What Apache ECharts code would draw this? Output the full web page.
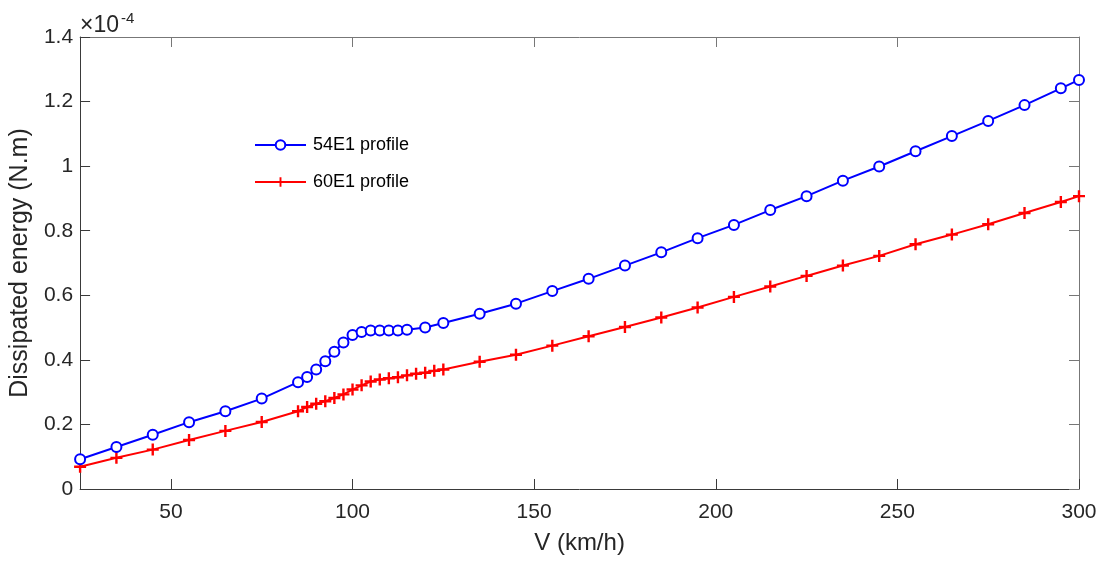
<!DOCTYPE html>
<html>
<head>
<meta charset="utf-8">
<script src="https://cdn.jsdelivr.net/npm/echarts@6/dist/echarts.min.js"></script>
<style>
html,body{margin:0;padding:0;background:#fff;}
#chart{width:1103px;height:563px;}
</style>
</head>
<body>
<div id="chart"></div>
<script>
// Data (values shown in units of 1e-4 N.m)
const xBlue = [25,35,45,55,65,75,85,87.5,90,92.5,95,97.5,100,102.5,105,107.5,110,112.5,115,120,125,135,145,155,165,175,185,195,205,215,225,235,245,255,265,275,285,295,300];
const yBlue = [0.092,0.130,0.168,0.207,0.241,0.280,0.331,0.347,0.370,0.396,0.425,0.454,0.477,0.486,0.491,0.491,0.491,0.491,0.493,0.500,0.514,0.543,0.574,0.613,0.651,0.692,0.733,0.777,0.818,0.864,0.907,0.955,0.999,1.046,1.093,1.140,1.189,1.241,1.267];
const xRed = [25,35,45,55,65,75,85,87.5,90,92.5,95,97.5,100,102.5,105,107.5,110,112.5,115,117.5,120,122.5,125,135,145,155,165,175,185,195,205,215,225,235,245,255,265,275,285,295,300];
const yRed = [0.069,0.0965,0.122,0.152,0.180,0.2075,0.241,0.254,0.264,0.272,0.282,0.293,0.308,0.321,0.333,0.339,0.343,0.346,0.352,0.357,0.360,0.366,0.370,0.394,0.416,0.444,0.473,0.502,0.531,0.562,0.595,0.627,0.660,0.692,0.722,0.758,0.788,0.820,0.855,0.889,0.907];
const xTicks = [50,100,150,200,250,300];
const yTicks = [0,0.2,0.4,0.6,0.8,1,1.2,1.4];
const seriesNames = ['54E1 profile','60E1 profile'];

const axisColor = '#3a3a3a';
const axisColor2 = '#777777';
const textColor = '#262626';
const font = 'Liberation Sans, Arial, Helvetica, sans-serif';
const plusPath = 'path://M4,0H6V4H10V6H6V10H4V6H0V4H4Z';

const chart = echarts.init(document.getElementById('chart'), null, {renderer:'canvas'});
chart.setOption({
  animation:false,
  backgroundColor:'#fff',
  grid:{left:77,right:24,top:37,bottom:74,containLabel:false},
  legend:{
    orient:'vertical', left:254, top:136, padding:0, itemWidth:51, itemHeight:12, itemGap:19,
    textStyle:{fontFamily:font,fontSize:18,color:'#000',padding:[0,0,0,2]},
    data:seriesNames
  },
  xAxis:[{
    type:'value', min:25, max:300, position:'bottom',
    name:'V (km/h)', nameLocation:'middle', nameGap:42,
    nameTextStyle:{fontFamily:font,fontSize:24,color:textColor},
    axisLine:{show:true,onZero:false,lineStyle:{color:axisColor,width:1}},
    axisTick:{show:true,inside:true,length:10,customValues:xTicks,lineStyle:{color:axisColor}},
    axisLabel:{show:true,customValues:xTicks,fontFamily:font,fontSize:21,color:textColor,margin:13},
    splitLine:{show:false}
  },{
    type:'value', min:25, max:300, position:'top',
    axisLine:{show:true,onZero:false,lineStyle:{color:axisColor2,width:1}},
    axisTick:{show:true,inside:true,length:10,customValues:xTicks,lineStyle:{color:axisColor2}},
    axisLabel:{show:false},
    splitLine:{show:false}
  }],
  yAxis:[{
    type:'value', min:0, max:1.4, interval:0.2, position:'left',
    name:'Dissipated energy (N.m)', nameLocation:'middle', nameGap:42,
    nameTextStyle:{fontFamily:font,fontSize:25,color:textColor},
    axisLine:{show:true,onZero:false,lineStyle:{color:axisColor,width:1}},
    axisTick:{show:true,inside:true,length:10,lineStyle:{color:axisColor}},
    axisLabel:{show:true,fontFamily:font,fontSize:21,color:textColor,margin:7,
      formatter:function(v){return String(Math.round(v*10)/10);}},
    splitLine:{show:false}
  },{
    type:'value', min:0, max:1.4, interval:0.2, position:'right',
    axisLine:{show:true,onZero:false,lineStyle:{color:axisColor2,width:1}},
    axisTick:{show:true,inside:true,length:10,lineStyle:{color:axisColor2}},
    axisLabel:{show:false},
    splitLine:{show:false}
  }],
  graphic:[{
    type:'text', left:80, top:14,
    style:{text:'×10',fontFamily:font,fontSize:23,fill:textColor}
  },{
    type:'text', left:121, top:11,
    style:{text:'-4',fontFamily:font,fontSize:15,fill:textColor}
  }],
  series:[{
    name:seriesNames[0], type:'line',
    data:xBlue.map((x,i)=>[x,yBlue[i]]),
    symbol:'emptyCircle', symbolSize:10, showAllSymbol:true,
    lineStyle:{color:'#0000ff',width:2},
    itemStyle:{color:'#0000ff',borderColor:'#0000ff',borderWidth:2},
    z:3
  },{
    name:seriesNames[1], type:'line',
    data:xRed.map((x,i)=>[x,yRed[i]]),
    symbol:plusPath, symbolSize:12, showAllSymbol:true,
    lineStyle:{color:'#ff0000',width:2},
    itemStyle:{color:'#ff0000',borderWidth:0},
    z:2
  }]
});
</script>
</body>
</html>
